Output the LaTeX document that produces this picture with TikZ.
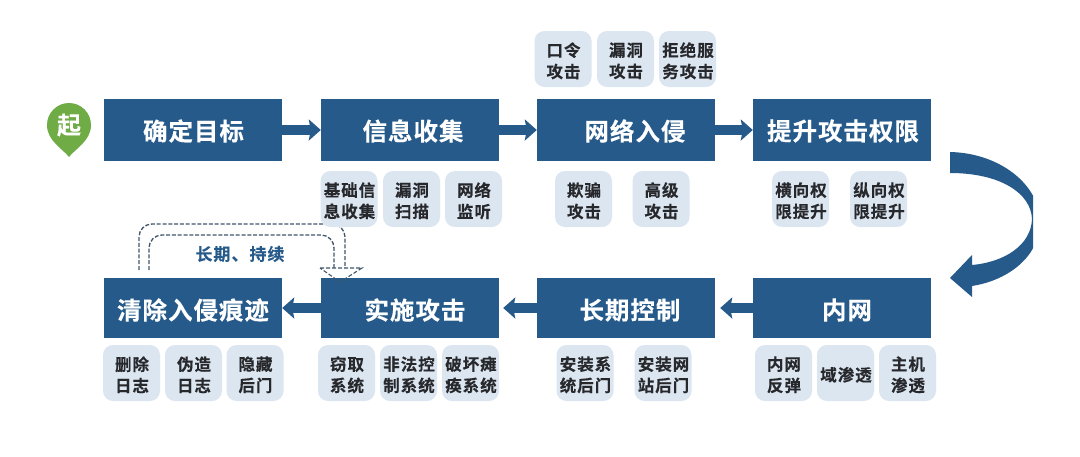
\documentclass[tikz,border=0pt]{standalone}
\usepackage{fontspec}
\usetikzlibrary{arrows.meta,calc}
\setmainfont{Noto Sans CJK SC}[BoldFont={* Bold}]
\newfontfamily\cjktitle{Noto Sans CJK SC Bold}[LetterSpace=4,FakeBold=0.25]
\newfontfamily\cjksub{Noto Sans CJK SC Bold}[LetterSpace=6,FakeBold=0.25]
\definecolor{navy}{HTML}{255A8A}
\definecolor{navydark}{HTML}{1B4A75}
\definecolor{pale}{HTML}{DCE6F1}
\definecolor{pingreen}{HTML}{6FAC46}
\definecolor{dashc}{HTML}{42566A}
\definecolor{subtext}{HTML}{26282C}
\tikzset{
  mainbox/.style={draw=none,fill=navy,minimum width=178pt,inner sep=0pt},
  maintext/.style={text=white,inner sep=0pt,font=\cjktitle\fontsize{24.5}{28}\selectfont},
  subbox/.style={draw=none,fill=pale,rounded corners=10pt,minimum width=57pt,minimum height=56pt,inner sep=0pt},
  subtext/.style={inner sep=0pt,align=center,text=subtext,font=\cjksub\fontsize{16.5}{21.3}\selectfont},
  blockarrow/.style={draw=navy,line width=10.5pt,-{Stealth[length=12pt,width=21pt,inset=2pt]}},
  loopline/.style={draw=dashc,line width=1.3pt,dash pattern=on 4pt off 1.8pt,rounded corners=13pt},
}
% name, x, y, height, text dx, text dy, text
\newcommand\mainn[7]{%
  \node[mainbox,minimum height=#4pt] (#1) at (#2,#3) {};
  \node[maintext] (#1t) at ($(#1.center)+(#5,#6)$) {#7};}
% name, x, y, text
\newcommand\subn[4]{%
  \node[subbox] (#1) at (#2,#3) {};
  \node[subtext] (#1t) at ($(#1.center)+(0.5,1.8)$) {#4};}
\begin{document}
\begin{tikzpicture}[x=1pt,y=-1pt]
\useasboundingbox[fill=white] (0,0) rectangle (1080,456);
% loop coordinates
\coordinate (lo1) at (139,270);
\coordinate (lo2) at (139,224);
\coordinate (lo3) at (345,224);
\coordinate (lo4) at (345,268);
\coordinate (li1) at (149,270);
\coordinate (li2) at (149,235);
\coordinate (li3) at (334,235);
\coordinate (li4) at (334,268);
\draw[loopline] (lo1) -- (lo2) -- (lo3) -- (lo4);
\draw[loopline] (li1) -- (li2) -- (li3) -- (li4);
% main row 1
\mainn{a}{193}{130}{62}{0.5}{1}{确定目标}
\mainn{b}{410}{130}{62}{3}{1}{信息收集}
\mainn{c}{626}{130}{62}{9}{1}{网络入侵}
\mainn{d}{842}{130}{62}{1}{1}{提升攻击权限}
% main row 2
\mainn{e}{842}{308}{60}{5}{2}{内网}
\mainn{f}{626}{308}{60}{4}{2}{长期控制}
\mainn{g}{410}{308}{60}{5}{2}{实施攻击}
\mainn{h}{193}{308}{60}{0}{2}{清除入侵痕迹}
% block arrows
\draw[blockarrow] (a.east) -- (b.west);
\draw[blockarrow] (b.east) -- (c.west);
\draw[blockarrow] (c.east) -- (d.west);
\draw[blockarrow,shorten >=5pt] (e.west) -- (f.east);
\draw[blockarrow,shorten >=4pt] (f.west) -- (g.east);
\draw[blockarrow] (g.west) -- (h.east);
% start pin
\fill[pingreen] (69,157) .. controls (63,149) and (47,141) .. (47,125)
  arc[start angle=180,end angle=0,x radius=22,y radius=-22]
  .. controls (91,141) and (75,149) .. (69,157) -- cycle;
\node[text=white,inner sep=0pt,font=\cjktitle\fontsize{24}{28}\selectfont] (start) at (69,125) {起};
% sub boxes
\subn{s1}{349}{199}{基础信\\息收集}
\subn{s2}{411.5}{199}{漏洞\\扫描}
\subn{s3}{473.5}{199}{网络\\监听}
\subn{s4}{563}{59}{口令\\攻击}
\subn{s5}{625.5}{59}{漏洞\\攻击}
\subn{s6}{687.5}{59}{拒绝服\\务攻击}
\subn{s7}{583.5}{199}{欺骗\\攻击}
\subn{s8}{661}{199}{高级\\攻击}
\subn{s9}{800.5}{199}{横向权\\限提升}
\subn{s10}{878.5}{199}{纵向权\\限提升}
\subn{s11}{131.5}{373}{删除\\日志}
\subn{s12}{193.5}{373}{伪造\\日志}
\subn{s13}{255}{373}{隐藏\\后门}
\subn{s14}{346.5}{373}{窃取\\系统}
\subn{s15}{408.5}{373}{非法控\\制系统}
\subn{s16}{470.5}{373}{破坏瘫\\痪系统}
\subn{s17}{585}{373}{安装系\\统后门}
\subn{s18}{663}{373}{安装网\\站后门}
\subn{s19}{783.5}{373}{内网\\反弹}
\subn{s20}{845.5}{373}{域渗透}
\subn{s21}{907.5}{373}{主机\\渗透}
% loop label and dashed head
\node[text=navy,inner sep=0pt,font=\cjksub\fontsize{17}{20}\selectfont] (lbl) at (240,254) {长期、持续};
\draw[draw=dashc,line width=1.1pt,dash pattern=on 4pt off 2pt] (320,268) -- (362,268) -- (340,282) -- cycle;
% curved arrow to the lower row
\coordinate (ca) at (950,152);
\coordinate (cb) at (950,173);
\coordinate (cc) at (972,255);
\coordinate (ct) at (950,278);
\coordinate (cd) at (972,297);
\coordinate (ce) at (972,286);
\begin{scope}
\clip (940,140) rectangle (1033,310);
\shade[top color=navy,middle color=navydark,bottom color=navy]
  (ca) .. controls (1000,153) and (1040,185) .. (1040,222)
  .. controls (1040,255) and (1010,280) .. (ce)
  -- (cd) -- (ct) -- (cc) -- (972,265)
  .. controls (1005,262) and (1031,245) .. (1032,219)
  .. controls (1031,193) and (1000,173) .. (cb) -- cycle;
\end{scope}
\end{tikzpicture}
\end{document}
